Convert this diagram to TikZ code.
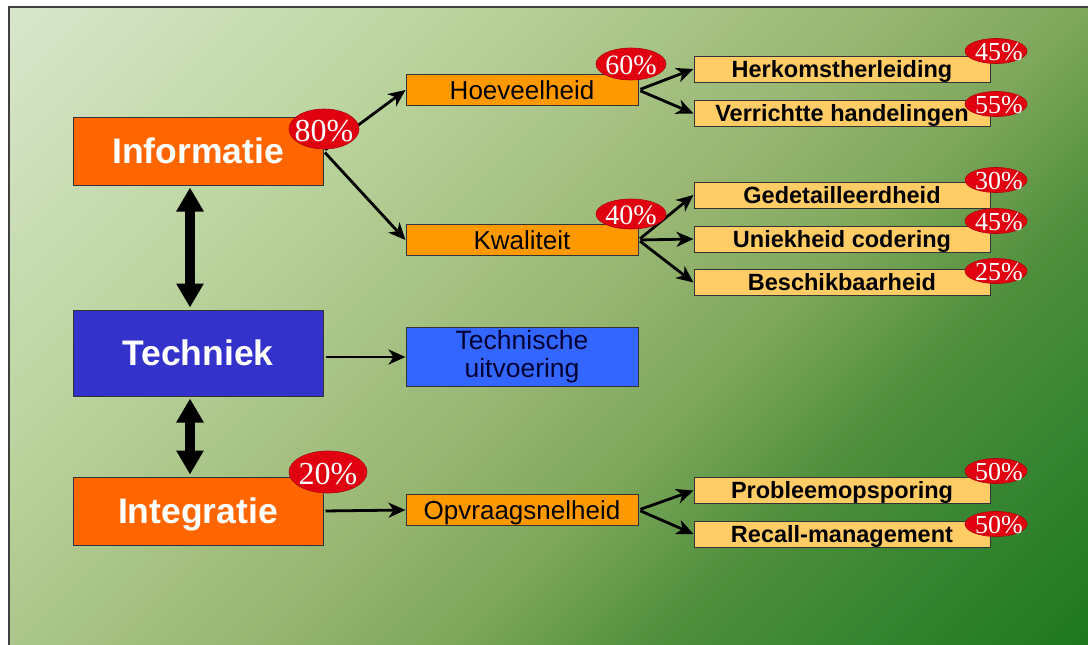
\documentclass[tikz,border=0pt]{standalone}
\usepackage{fontspec}
\setmainfont{Liberation Sans}
\newfontfamily\pctfont{Liberation Serif}
\usetikzlibrary{shapes.geometric,arrows.meta}

\definecolor{hoofdoranje}{HTML}{FF6600}
\definecolor{hoofdblauw}{HTML}{3333CC}
\definecolor{suboranje}{HTML}{FF9900}
\definecolor{subblauw}{HTML}{3366FF}
\definecolor{detailgeel}{HTML}{FFCC66}
\definecolor{pctrood}{HTML}{E00010}
\definecolor{bg0}{HTML}{D8E6CC}
\definecolor{bg1}{HTML}{BCD5A0}
\definecolor{bg2}{HTML}{9AB774}
\definecolor{bg3}{HTML}{7FA85C}
\definecolor{bg4}{HTML}{4F8F3C}
\definecolor{bg5}{HTML}{348430}
\definecolor{bg6}{HTML}{1E781C}

\pgfdeclareverticalshading{achtergrond}{100bp}{color(0bp)=(bg6); color(14.6bp)=(bg6);
  color(23.5bp)=(bg5); color(32.3bp)=(bg4); color(41.2bp)=(bg3); color(50bp)=(bg2);
  color(67.7bp)=(bg1); color(85.4bp)=(bg0); color(100bp)=(bg0)}

\tikzset{
  hoofd/.style={draw=black!80, line width=1pt, minimum width=250pt, text=white,
    text height=26pt, text depth=2pt, font=\fontsize{35.5}{40}\selectfont\bfseries},
  sub/.style={draw=black!80, line width=1pt, fill=suboranje, minimum width=232pt,
    minimum height=31pt, text height=19pt, text depth=1pt, inner ysep=0pt,
    font=\fontsize{26}{28}\selectfont},
  detail/.style={draw=black!80, line width=1pt, fill=detailgeel, minimum width=296pt,
    minimum height=26pt, text height=21pt, text depth=5pt, inner ysep=0pt,
    font=\fontsize{23.5}{26}\selectfont\bfseries},
  pct/.style={ellipse, fill=pctrood, draw=pctrood!80!black, line width=0.6pt,
    inner sep=0pt, minimum width=62pt, minimum height=25pt},
  pcttxt/.style={text=white, yshift=-1pt, xshift=3pt, font=\pctfont\fontsize{26}{28}\selectfont},
  grootpct/.style={text=white, yshift=-2pt, font=\pctfont\fontsize{32}{34}\selectfont},
  pijl/.style={-{Stealth[length=17pt,width=15pt,inset=5pt]}, line width=2.8pt, shorten <=2pt},
  dubbel/.style={{Triangle[length=24pt,width=26pt]}-{Triangle[length=24pt,width=26pt]},
    line width=10pt, shorten <=2pt, shorten >=2pt},
}

\begin{document}
\begin{tikzpicture}[x=1pt,y=-1pt]
\useasboundingbox (0,0) rectangle (1088,645);

%achtergrond
\shade[shading=achtergrond, shading angle=45] (9,7) rectangle (1088,645);
\draw[black!75, line width=1.5pt] (9,645) |- (1088,7);

%hoofdblokken
\node[hoofd, fill=hoofdoranje, minimum height=68pt] (info) at (198,151) {Informatie};
\node[hoofd, fill=hoofdblauw, minimum height=86pt] (tech) at (198,353) {Techniek};
\node[hoofd, fill=hoofdoranje, minimum height=68pt] (integr) at (198,511) {Integratie};

\draw[dubbel] ([xshift=-8pt]info.south) -- ([xshift=-8pt]tech.north);
\draw[dubbel] ([xshift=-8pt]tech.south) -- ([xshift=-8pt]integr.north);

%tweede niveau
\node[sub] (hoev) at (522,90) {Hoeveelheid};
\node[sub] (kwal) at (522,240) {Kwaliteit};
\node[sub, fill=subblauw, minimum height=59pt, text height=, text depth=, inner ysep=2pt,
  align=center, text=black!80!blue, font=\fontsize{26.5}{28}\selectfont] (uitv) at (522,357)
  {Technische\\uitvoering};
\node[sub] (opvr) at (522,510) {Opvraagsnelheid};

%derde niveau
\node[detail] (herk) at (842,69) {Herkomstherleiding};
\node[detail] (verr) at (842,113.5) {Verrichtte handelingen};
\node[detail] (gedet) at (842,195) {Gedetailleerdheid};
\node[detail] (uniek) at (842,239) {Uniekheid codering};
\node[detail] (besch) at (842,282.5) {Beschikbaarheid};
\node[detail] (probl) at (842,490.5) {Probleemopsporing};
\node[detail] (recall) at (842,534) {Recall-management};

%pijlen
\draw[pijl] (info.east) -- (hoev.west);
\draw[pijl] (info.east) -- (kwal.west);
\draw[pijl] (tech.east |- uitv.west) -- (uitv.west);
\draw[pijl] (integr.east) -- (opvr.west);

\foreach \doel in {herk,verr}
  \draw[pijl] (hoev.east) -- (\doel.west);
\foreach \doel in {gedet,uniek,besch}
  \draw[pijl] (kwal.east) -- (\doel.west);
\foreach \doel in {probl,recall}
  \draw[pijl] (opvr.east) -- (\doel.west);

%percentages
\node[pct, minimum width=70pt, minimum height=40pt, label={[grootpct]center:80\%}] (p80) at (324,129) {};
\node[pct, minimum width=78pt, minimum height=42pt, label={[grootpct]center:20\%}] (p20) at (328,472) {};
\node[pct, minimum width=70pt, minimum height=32pt, label={[pcttxt, xshift=-3pt, font=\pctfont\fontsize{28}{30}\selectfont]center:60\%}] (p60) at (631,64) {};
\node[pct, minimum width=70pt, minimum height=30pt, label={[pcttxt, xshift=-3pt, font=\pctfont\fontsize{28}{30}\selectfont]center:40\%}] (p40) at (631,214) {};

\node[pct, label={[pcttxt]center:45\%}] (p45a) at (996,51) {};
\node[pct, label={[pcttxt]center:55\%}] (p55) at (996,104) {};
\node[pct, label={[pcttxt]center:30\%}] (p30) at (996,180) {};
\node[pct, label={[pcttxt]center:45\%}] (p45b) at (996,221) {};
\node[pct, label={[pcttxt]center:25\%}] (p25) at (996,271) {};
\node[pct, label={[pcttxt]center:50\%}] (p50a) at (996,471) {};
\node[pct, label={[pcttxt]center:50\%}] (p50b) at (996,524) {};

\end{tikzpicture}
\end{document}
